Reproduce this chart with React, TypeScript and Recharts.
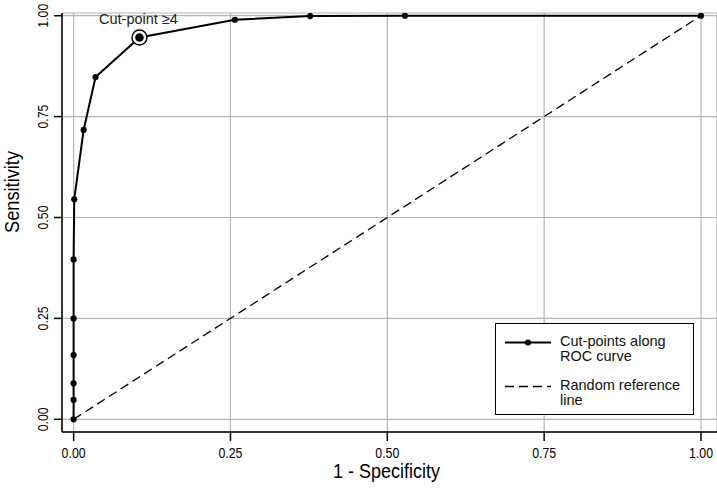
import { LineChart, Line, XAxis, YAxis, CartesianGrid, Legend, Label } from "recharts";

// ROC cut-points (1 - specificity, sensitivity)
const fpr = [0, 0, 0, 0, 0, 0, 0.001, 0.016, 0.035, 0.105, 0.257, 0.377, 0.528, 1];
const tpr = [0, 0.048, 0.089, 0.159, 0.25, 0.396, 0.545, 0.717, 0.848, 0.946, 0.99, 0.999, 1, 1];
// random reference line
const refX = [0, 1];
const refY = [0, 1];
const axisTicks = [0, 0.25, 0.5, 0.75, 1];
const cutIndex = 9;
const cutLabel = "Cut-point ≥4";
const xTitle = "1 - Specificity";
const yTitle = "Sensitivity";
const legendLines = [
  ["Cut-points along", "ROC curve"],
  ["Random reference", "line"],
];

const roc = fpr.map((x, i) => ({ x, y: tpr[i] }));
const ref = refX.map((x, i) => ({ x, y: refY[i] }));

const sans = "'Liberation Sans', Arial, sans-serif";
const fmt = (v: number) => v.toFixed(2);

// the original uses a condensed face, so squeeze the text a bit
const XTick = ({ x, y, payload }: any) => (
  <text x={x} y={y + 17} textAnchor="middle" fontFamily={sans} fontSize={15} textLength={24} lengthAdjust="spacingAndGlyphs" fill="#000">
    {fmt(payload.value)}
  </text>
);

const YTick = ({ x, y, payload }: any) => (
  <text x={x - 6} y={y} transform={`rotate(-90, ${x - 6}, ${y})`} textAnchor="middle" fontFamily={sans} fontSize={15} textLength={24} lengthAdjust="spacingAndGlyphs" fill="#000">
    {fmt(payload.value)}
  </text>
);

const RocDot = (p: any) => {
  const { cx, cy, index } = p;
  if (index === cutIndex) {
    return (
      <g key={`d${index}`}>
        <circle cx={cx} cy={cy} r={7.5} fill="#fff" stroke="#000" strokeWidth={1.4} />
        <circle cx={cx} cy={cy} r={4.3} fill="#000" />
        <text x={cx - 1} y={cy - 13} textAnchor="middle" fontFamily={sans} fontSize={14.5} fill="#222">
          {cutLabel}
        </text>
      </g>
    );
  }
  return <circle key={`d${index}`} cx={cx} cy={cy} r={3.1} fill="#000" />;
};

const LegendBox = () => (
  <div
    style={{
      position: "relative",
      boxSizing: "border-box",
      width: 199,
      height: 92,
      border: "1.3px solid #000",
      background: "#fff",
      fontFamily: sans,
      fontSize: 14.5,
      lineHeight: "15px",
      color: "#111",
    }}
  >
    {legendLines.map((lines, i) => (
      <div key={i} style={{ position: "absolute", left: 9, top: i === 0 ? 10 : 54 }}>
        <svg width={46} height={16} style={{ position: "absolute", left: 0, top: 0 }}>
          {i === 0 ? (
            <>
              <line x1={0} y1={8.5} x2={46} y2={8.5} stroke="#000" strokeWidth={2} />
              <circle cx={23} cy={8.5} r={3.1} fill="#000" />
            </>
          ) : (
            <line x1={0} y1={8.5} x2={46} y2={8.5} stroke="#000" strokeWidth={1.3} strokeDasharray="9 5" />
          )}
        </svg>
        <div style={{ position: "absolute", left: 55, top: 0, whiteSpace: "nowrap" }}>
          {lines.map((l, j) => (
            <div key={j}>{l}</div>
          ))}
        </div>
      </div>
    ))}
  </div>
);

export default function App() {
  return (
    <div style={{ position: "absolute", left: 0, top: 0, background: "#fff" }}>
      <LineChart width={717} height={490} margin={{ top: 13, right: 0, bottom: 0, left: 0 }}>
        <CartesianGrid stroke="#b4b4b4" strokeWidth={1.2} />
        <XAxis
          type="number"
          dataKey="x"
          domain={[-0.0185, 1.0255]}
          ticks={axisTicks}
          interval={0}
          allowDataOverflow
          height={58}
          tickSize={9}
          tickMargin={0}
          stroke="#000"
          strokeWidth={1.5}
          tick={<XTick />}
        >
          <Label
            content={(p: any) => {
              const vb = p.viewBox;
              return (
                <text x={vb.x + vb.width / 2 - 3} y={478} textAnchor="middle" fontFamily={sans} fontSize={20} textLength={107} lengthAdjust="spacingAndGlyphs" fill="#000">
                  {xTitle}
                </text>
              );
            }}
          />
        </XAxis>
        <YAxis
          type="number"
          domain={[-0.0315, 1.0067]}
          ticks={axisTicks}
          interval={0}
          allowDataOverflow
          width={62}
          tickSize={8}
          tickMargin={0}
          stroke="#000"
          strokeWidth={1.5}
          tick={<YTick />}
        >
          <Label
            content={() => (
              <text x={19} y={192} transform="rotate(-90, 19, 192)" textAnchor="middle" fontFamily={sans} fontSize={20} textLength={82} lengthAdjust="spacingAndGlyphs" fill="#000">
                {yTitle}
              </text>
            )}
          />
        </YAxis>
        <Legend
          layout="vertical"
          align="center"
          verticalAlign="middle"
          content={() => <LegendBox />}
          wrapperStyle={{ position: "absolute", left: 495, top: 323, width: 199, height: 92 }}
        />
        <Line
          data={ref}
          dataKey="y"
          type="linear"
          stroke="#000"
          strokeWidth={1.3}
          strokeDasharray="9 5"
          dot={false}
          activeDot={false}
          isAnimationActive={false}
        />
        <Line
          data={roc}
          dataKey="y"
          type="linear"
          stroke="#000"
          strokeWidth={2}
          dot={RocDot}
          activeDot={false}
          isAnimationActive={false}
        />
      </LineChart>
    </div>
  );
}
